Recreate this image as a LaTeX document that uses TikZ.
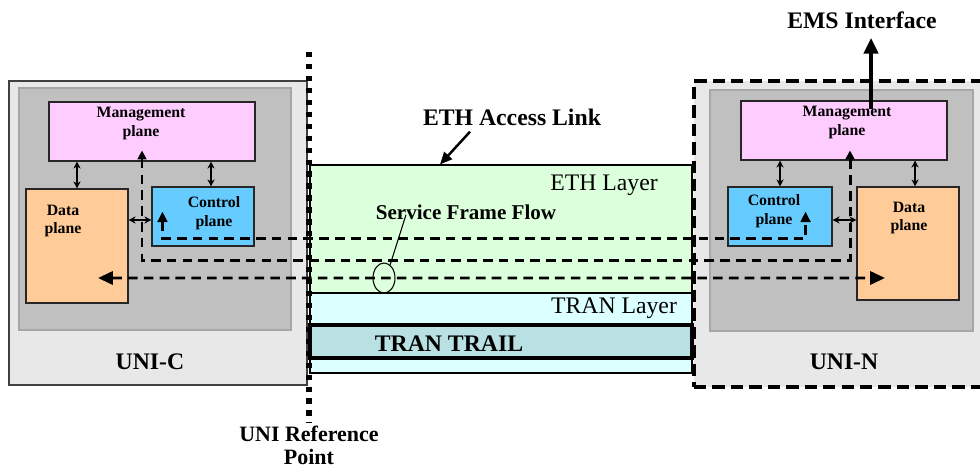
\documentclass[tikz,border=0pt]{standalone}
\usepackage{fontspec}
\setmainfont{Liberation Serif}
\usetikzlibrary{shapes.geometric}
\usetikzlibrary{arrows.meta}
\usetikzlibrary{calc,positioning}

\newdimen\px \px=0.02cm
\definecolor{uniGray}{HTML}{E8E8E8}
\definecolor{coreGray}{HTML}{C0C0C0}
\definecolor{mgmtPink}{HTML}{FFCCFF}
\definecolor{dataOrange}{HTML}{FFCC99}
\definecolor{ctrlBlue}{HTML}{66CCFF}
\definecolor{ethGreen}{HTML}{DCFFDC}
\definecolor{tranCyan}{HTML}{DCFFFF}
\definecolor{trailTeal}{HTML}{B9E0E2}

\begin{document}
\begin{tikzpicture}[x=0.02cm, y=-0.02cm]
	\tikzstyle{box}=[draw, rectangle, inner sep=0pt, line width=0.6pt]
	\tikzstyle{plane}=[box, draw=black!85]
	\tikzstyle{core}=[box, draw=black!35, fill=coreGray]
	\tikzstyle{lbl}=[inner sep=0pt, align=center, font=\fontsize{9}{10.8}\selectfont\bfseries]
	\tikzstyle{big}=[inner sep=0pt, align=center, font=\fontsize{13.5}{16}\selectfont\bfseries]
	\tikzstyle{layer}=[inner sep=0pt, font=\fontsize{13.5}{16}\selectfont]
	\tikzstyle{link}=[line width=0.6pt, {Stealth[length=4pt,width=4pt]}-{Stealth[length=4pt,width=4pt]}]
	\tikzstyle{flow}=[line width=1.7pt, dash pattern=on 5.5pt off 3.5pt]
	\useasboundingbox (0,0) rectangle (980,472);

	% UNI-C side
	\node[box, draw=black!75, fill=uniGray, minimum width=298\px, minimum height=304\px] (uniC) at (158,233) {};
	\node[core, minimum width=272\px, minimum height=242\px] (coreC) at (155,209) {};
	\node[plane, fill=mgmtPink, minimum width=206\px, minimum height=59\px] (mgmtC) at (152,131.5) {};
	\node[plane, fill=dataOrange, minimum width=102\px, minimum height=114\px] (dataC) at (77,246) {};
	\node[plane, fill=ctrlBlue, minimum width=102\px, minimum height=59\px] (ctrlC) at (203,216.5) {};
	\node[lbl] at (141,123.5) {Management\\plane};
	\node[lbl] at (63,221) {Data\\plane};
	\node[lbl] at (214,213.5) {Control\\plane};
	\node[big] (uniCLbl) at (150,362) {UNI-C};

	% UNI-N side
	\node[box, fill=uniGray, line width=1.8pt, dash pattern=on 7pt off 3.5pt, minimum width=296\px, minimum height=306\px] (uniN) at (842,234) {};
	\node[core, minimum width=263\px, minimum height=241\px] (coreN) at (841.5,210.5) {};
	\node[plane, fill=mgmtPink, minimum width=206\px, minimum height=59\px] (mgmtN) at (844,130.5) {};
	\node[plane, fill=ctrlBlue, minimum width=104\px, minimum height=59\px] (ctrlN) at (780,216.5) {};
	\node[plane, fill=dataOrange, minimum width=102\px, minimum height=113\px] (dataN) at (908,243.5) {};
	\node[lbl] at (847,122.5) {Management\\plane};
	\node[lbl] at (774,211.5) {Control\\plane};
	\node[lbl] at (909,218) {Data\\plane};
	\node[big] (uniNLbl) at (844,362) {UNI-N};
	\node[big] (ems) at (862,20) {EMS Interface};

	% access link layers
	\node[box, fill=tranCyan, minimum width=382\px, minimum height=80\px] (tranLayer) at (501,333) {};
	\node[box, fill=ethGreen, minimum width=382\px, minimum height=128\px] (ethLayer) at (501,229) {};
	\node[box, fill=trailTeal, line width=1.8pt, minimum width=382\px, minimum height=33\px] (tranTrail) at (501,341.5) {};
	\node[layer] at (604,185) {ETH Layer};
	\node[layer] at (614,308) {TRAN Layer};
	\node[big] at (449,344) {TRAN TRAIL};
	\node[big] (ethLink) at (512,117) {ETH Access Link};
	\node[inner sep=0pt, font=\fontsize{12}{14}\selectfont\bfseries] (sff) at (466,212) {Service Frame Flow};
	\node[draw, ellipse, inner sep=0pt, line width=0.6pt, minimum width=22\px, minimum height=30\px] (ring) at (384,278) {};

	% plane links
	\draw[link] (dataC.north) -- (dataC.north |- mgmtC.south);
	\draw[link] ([xshift=8\px]ctrlC.north) -- ([xshift=8\px]ctrlC.north |- mgmtC.south);
	\draw[link] ([yshift=-3.5\px]ctrlC.west) -- ([yshift=-3.5\px]ctrlC.west -| dataC.east);
	\draw[link] (ctrlN.north) -- (ctrlN.north |- mgmtN.south);
	\draw[link] ([xshift=7\px]dataN.north) -- ([xshift=7\px]dataN.north |- mgmtN.south);
	\draw[link] ([yshift=-3.5\px]ctrlN.east) -- ([yshift=-3.5\px]ctrlN.east -| dataN.west);

	\draw[line width=2.3pt, -{Triangle[length=9pt,width=8pt]}] ([shift={(27,9)}]mgmtN.north) -- ([xshift=9\px,yshift=-9\px]ems.south);
	\draw[line width=1.4pt, -{Triangle[length=7pt,width=6pt]}] ([xshift=-42\px,yshift=-6\px]ethLink.south) -- ([xshift=-61\px]ethLayer.north);
	\draw[line width=0.6pt] ([xshift=-60\px,yshift=5\px]sff.south) -- (ring.65);

	% frame flows
	\draw[flow, {Triangle[length=6pt,width=5.5pt]}-{Triangle[length=6pt,width=5.5pt]}] ([shift={(11,-5)}]ctrlC.west) |- ([shift={(-27,-8)}]ctrlN.south east) -- ([shift={(-27,-5)}]ctrlN.east);
	\draw[flow, {Triangle[length=5pt,width=5pt]}-{Triangle[length=5pt,width=5pt]}] ([shift={(-10,-11)}]mgmtC.south) -- ++(0,110) -| ([shift={(6,-10)}]mgmtN.south);
	\draw[flow, {Triangle[length=8.5pt,width=7.5pt]}-{Triangle[length=8.5pt,width=7.5pt]}] ([shift={(21,32)}]dataC.center) -- ([shift={(-23,34.5)}]dataN.center);

	% UNI reference point
	\coordinate (refTop) at (309,52);
	\coordinate (refBot) at (309,423);
	\draw[line width=3pt, dash pattern=on 3pt off 3.8pt] (refTop) -- (refBot);
	\node[big, font=\fontsize{12.5}{13}\selectfont\bfseries, below=3\px of refBot] (refLbl) {UNI Reference\\Point};
\end{tikzpicture}
\end{document}
